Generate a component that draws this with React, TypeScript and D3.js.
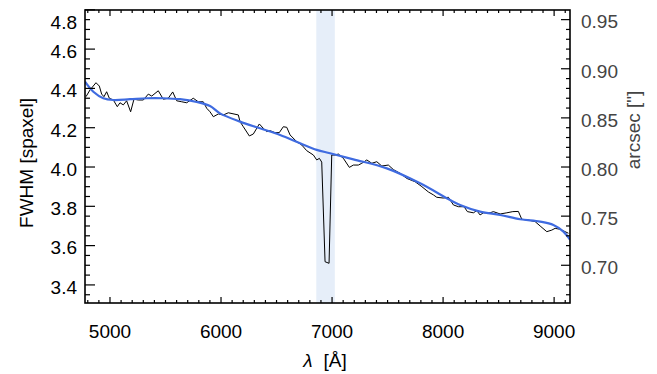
import React from "react";
import * as d3 from "d3";

const measWave = [4784, 4820, 4874, 4904, 4925, 4946, 4970, 4994, 5030, 5066, 5090, 5120, 5150, 5186, 5216, 5255, 5300, 5345, 5376, 5435, 5480, 5525, 5565, 5601, 5646, 5691, 5750, 5795, 5840, 5871, 5901, 5931, 5976, 6021, 6066, 6156, 6171, 6201, 6255, 6291, 6345, 6381, 6412, 6441, 6486, 6525, 6561, 6592, 6622, 6682, 6727, 6772, 6832, 6862, 6886, 6907, 6937, 6973, 6997, 7027, 7057, 7102, 7156, 7192, 7237, 7268, 7313, 7358, 7403, 7448, 7507, 7552, 7613, 7673, 7748, 7802, 7868, 7913, 7943, 8003, 8048, 8093, 8138, 8189, 8219, 8273, 8304, 8333, 8363, 8423, 8453, 8514, 8574, 8628, 8678, 8709, 8768, 8829, 8874, 8934, 8979, 9009, 9054, 9099, 9129];
const measFwhm = [4.358, 4.392, 4.429, 4.412, 4.371, 4.358, 4.383, 4.35, 4.341, 4.307, 4.327, 4.316, 4.337, 4.281, 4.345, 4.341, 4.341, 4.371, 4.361, 4.388, 4.345, 4.35, 4.382, 4.337, 4.332, 4.327, 4.35, 4.332, 4.332, 4.299, 4.281, 4.256, 4.27, 4.265, 4.276, 4.265, 4.231, 4.205, 4.158, 4.168, 4.219, 4.197, 4.18, 4.185, 4.175, 4.175, 4.205, 4.202, 4.163, 4.129, 4.112, 4.083, 4.061, 4.036, 4.044, 4.025, 3.518, 3.51, 4.061, 4.061, 4.066, 4.044, 3.998, 4.01, 4.01, 4.019, 4.036, 4.019, 4.027, 4.005, 4.01, 3.987, 3.968, 3.942, 3.925, 3.903, 3.873, 3.858, 3.846, 3.842, 3.846, 3.807, 3.798, 3.798, 3.773, 3.767, 3.778, 3.756, 3.767, 3.767, 3.773, 3.761, 3.767, 3.773, 3.774, 3.734, 3.73, 3.722, 3.7, 3.671, 3.679, 3.688, 3.683, 3.671, 3.663];

const fitWave = [4775, 4850, 4940, 5030, 5180, 5331, 5480, 5631, 5781, 5901, 5991, 6171, 6351, 6532, 6712, 6862, 6982, 7192, 7493, 7793, 8063, 8153, 8333, 8514, 8694, 8874, 8994, 9084, 9144];
const fitFwhm = [4.434, 4.383, 4.35, 4.341, 4.345, 4.35, 4.35, 4.345, 4.331, 4.31, 4.273, 4.231, 4.197, 4.163, 4.121, 4.087, 4.07, 4.039, 3.993, 3.917, 3.832, 3.807, 3.773, 3.756, 3.734, 3.722, 3.705, 3.671, 3.629];

const bandRange = [6858, 7025];
const xMajorTicks = [5000, 6000, 7000, 8000, 9000];
const yMajorTicks = [3.4, 3.6, 3.8, 4.0, 4.2, 4.4, 4.6, 4.8];
const arcMajorTicks = [0.7, 0.75, 0.8, 0.85, 0.9, 0.95];
const spaxelScale = 0.2;

const W = 657, H = 374;
const L = 85, R = 570, T = 10, B = 303;
const FONT = "'Liberation Sans', Arial, Helvetica, sans-serif";

export default function App() {
  const x = d3.scaleLinear().domain([4775, 9143]).range([L, R]);
  const y = d3.scaleLinear().domain([3.308, 4.799]).range([B, T]);
  const yR = d3.scaleLinear().domain([3.308 * spaxelScale, 4.799 * spaxelScale]).range([B, T]);

  const xMinor = d3.range(4800, 9101, 100).filter((v) => v % 1000 !== 0);
  const yMinor = d3.range(3.35, 4.801, 0.05).filter((v) => Math.abs(v * 5 - Math.round(v * 5)) > 1e-6);
  const arcMinor = d3.range(0.67, 0.951, 0.01).filter((v) => Math.abs(v * 20 - Math.round(v * 20)) > 1e-6);

  const meas = measWave.map((w, i) => [w, measFwhm[i]] as [number, number]);
  const fit = fitWave.map((w, i) => [w, fitFwhm[i]] as [number, number]);
  const lineM = d3.line<[number, number]>().x((d) => x(d[0])).y((d) => y(d[1]));
  const lineF = d3.line<[number, number]>().x((d) => x(d[0])).y((d) => y(d[1])).curve(d3.curveCatmullRom.alpha(0.5));

  return (
    <svg width={W} height={H} style={{ position: "absolute", left: 0, top: 0, background: "#fff" }} fontFamily={FONT}>
      <defs>
        <clipPath id="plotclip">
          <rect x={L} y={T} width={R - L} height={B - T} />
        </clipPath>
      </defs>
      <rect x={x(bandRange[0])} y={T} width={x(bandRange[1]) - x(bandRange[0])} height={B - T} fill="#e6eef9" />
      <g clipPath="url(#plotclip)">
        <path d={lineM(meas) || ""} fill="none" stroke="#000" strokeWidth={1} strokeLinejoin="round" />
        <path d={lineF(fit) || ""} fill="none" stroke="#3f6be0" strokeWidth={2.2} />
      </g>
      <rect x={L} y={T} width={R - L} height={B - T} fill="none" stroke="#000" strokeWidth={1.6} />
      {xMajorTicks.map((v) => (
        <g key={"xm" + v}>
          <line x1={x(v)} x2={x(v)} y1={B} y2={B - 6} stroke="#000" strokeWidth={1.2} />
          <line x1={x(v)} x2={x(v)} y1={T} y2={T + 6} stroke="#000" strokeWidth={1.2} />
          <text x={x(v)} y={338} textAnchor="middle" fontSize={19} fill="#000">{v}</text>
        </g>
      ))}
      {xMinor.map((v) => (
        <g key={"xn" + v}>
          <line x1={x(v)} x2={x(v)} y1={B} y2={B - 3} stroke="#000" strokeWidth={1.2} />
          <line x1={x(v)} x2={x(v)} y1={T} y2={T + 3} stroke="#000" strokeWidth={1.2} />
        </g>
      ))}
      {yMajorTicks.map((v) => (
        <g key={"ym" + v}>
          <line x1={L} x2={L + 10} y1={y(v)} y2={y(v)} stroke="#000" strokeWidth={1.2} />
          <text x={77} y={Math.max(y(v), T + 10) + 2} dy="0.36em" textAnchor="end" fontSize={19} fill="#000">{v.toFixed(1)}</text>
        </g>
      ))}
      {yMinor.map((v, i) => (
        <line key={"yn" + i} x1={L} x2={L + 5} y1={y(v)} y2={y(v)} stroke="#000" strokeWidth={1.2} />
      ))}
      {arcMajorTicks.map((v) => (
        <g key={"am" + v}>
          <line x1={R} x2={R - 9} y1={yR(v)} y2={yR(v)} stroke="#000" strokeWidth={1.2} />
          <text x={581} y={yR(v) + 2} dy="0.36em" textAnchor="start" fontSize={19} fill="#444">{v.toFixed(2)}</text>
        </g>
      ))}
      {arcMinor.map((v, i) => (
        <line key={"an" + i} x1={R} x2={R - 4} y1={yR(v)} y2={yR(v)} stroke="#000" strokeWidth={1.2} />
      ))}
      <text transform="translate(33,163) rotate(-90)" textAnchor="middle" fontSize={19} fill="#000">FWHM [spaxel]</text>
      <text transform="translate(640,130) rotate(-90)" textAnchor="middle" fontSize={19} fill="#444">arcsec ["]</text>
      <text x={325} y={367} textAnchor="middle" fontSize={19} fill="#000">
        <tspan fontStyle="italic">λ</tspan>
        <tspan dx={11}>[Å]</tspan>
      </text>
    </svg>
  );
}
